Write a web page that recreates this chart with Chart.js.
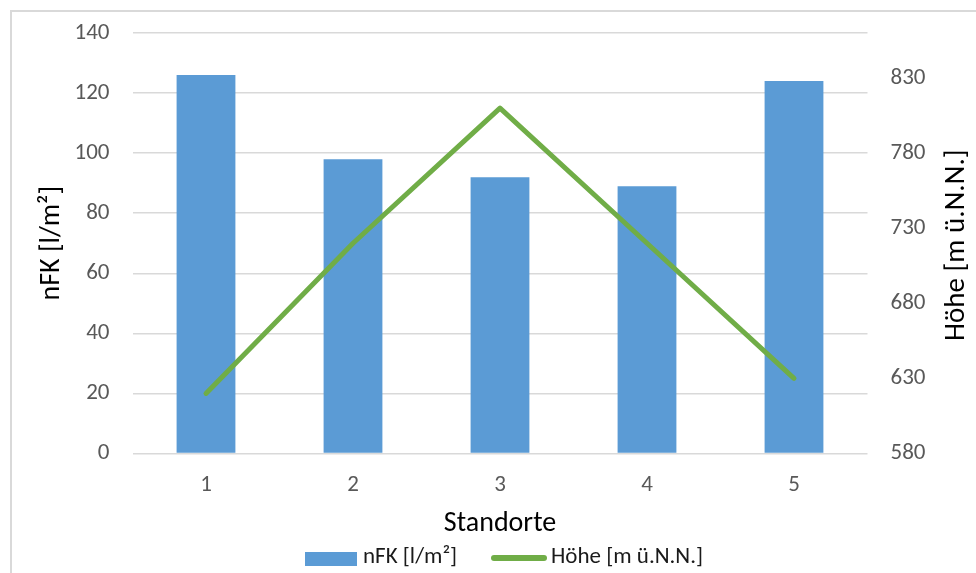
<!DOCTYPE html>
<html>
<head>
<meta charset="utf-8">
<script src="https://cdn.jsdelivr.net/npm/chart.js@4/dist/chart.umd.min.js"></script>
<style>
  html, body { margin: 0; padding: 0; background: #fff; overflow: hidden; }
  #wrap { position: relative; width: 976px; height: 573px; }
  canvas { display: block; }
</style>
</head>
<body>
<div id="wrap"><canvas id="c" width="976" height="573"></canvas></div>
<script>
const categories = ['1', '2', '3', '4', '5'];
const nfkValues = [126, 98, 92, 89, 124];
const hoeheValues = [620, 720, 810, 720, 630];
const leftTicks = [0, 20, 40, 60, 80, 100, 120, 140];
const rightTicks = [580, 630, 680, 730, 780, 830];
const nfkLabel = 'nFK [l/m²]';
const hoeheLabel = 'Höhe [m ü.N.N.]';
const xTitle = 'Standorte';

const FONT = "Carlito, Lato, 'Open Sans', sans-serif";
const BLUE = '#5B9BD5';
const GREEN = '#70AD47';
const GRID = '#D9D9D9';
const TICK = '#595959';

const extras = {
  id: 'extras',
  beforeDraw(chart) {
    const ctx = chart.ctx;
    ctx.save();
    ctx.strokeStyle = GRID;
    ctx.lineWidth = 2;
    ctx.beginPath();
    ctx.moveTo(11, 600);
    ctx.lineTo(11, 11);
    ctx.lineTo(1000, 11);
    ctx.stroke();
    ctx.restore();
  },
  afterDraw(chart) {
    const ctx = chart.ctx;
    const area = chart.chartArea;
    ctx.save();
    ctx.fillStyle = '#000';
    ctx.font = '29px ' + FONT;
    ctx.textAlign = 'center';
    ctx.textBaseline = 'middle';
    ctx.translate(957, (area.top + area.bottom) / 2 + 2);
    ctx.rotate(-Math.PI / 2);
    ctx.fillText(hoeheLabel, 0, 0);
    ctx.restore();

    ctx.save();
    ctx.font = '23px ' + FONT;
    ctx.textBaseline = 'middle';
    ctx.textAlign = 'left';
    ctx.fillStyle = BLUE;
    ctx.fillRect(305, 552, 52, 14);
    ctx.fillStyle = '#1a1a1a';
    ctx.fillText(nfkLabel, 363, 557);
    ctx.strokeStyle = GREEN;
    ctx.lineWidth = 6;
    ctx.lineCap = 'round';
    ctx.beginPath();
    ctx.moveTo(494, 558);
    ctx.lineTo(544, 558);
    ctx.stroke();
    ctx.fillText(hoeheLabel, 551, 557);
    ctx.restore();
  }
};

new Chart(document.getElementById('c'), {
  data: {
    labels: categories,
    datasets: [
      {
        type: 'line',
        label: hoeheLabel,
        data: hoeheValues,
        yAxisID: 'y1',
        borderColor: GREEN,
        backgroundColor: GREEN,
        borderWidth: 5,
        borderCapStyle: 'round',
        borderJoinStyle: 'round',
        pointRadius: 0,
        tension: 0,
        order: 0
      },
      {
        type: 'bar',
        label: nfkLabel,
        data: nfkValues,
        yAxisID: 'y',
        backgroundColor: BLUE,
        borderWidth: 0,
        categoryPercentage: 1.0,
        barPercentage: 0.4,
        order: 1
      }
    ]
  },
  options: {
    responsive: false,
    animation: false,
    devicePixelRatio: 1,
    layout: { padding: { top: 33, left: 0, right: 0, bottom: 0 } },
    plugins: {
      legend: { display: false },
      tooltip: { enabled: false }
    },
    scales: {
      x: {
        grid: { display: false },
        border: { display: false },
        ticks: { color: TICK, font: { family: FONT, size: 23 }, padding: 10 },
        title: {
          display: true, text: xTitle, color: '#000',
          font: { family: FONT, size: 28 }, padding: { top: 0, bottom: 32 }
        },
        afterFit(scale) { scale.height = 119.5; }
      },
      y: {
        position: 'left',
        min: 0, max: 140,
        afterBuildTicks(scale) { scale.ticks = leftTicks.map(v => ({ value: v })); },
        grid: { color: GRID, lineWidth: 1.5, drawTicks: true, tickLength: 23, tickColor: 'rgba(0,0,0,0)' },
        border: { display: false },
        ticks: { color: TICK, font: { family: FONT, size: 23 }, padding: 0 },
        title: {
          display: true, text: nfkLabel, color: '#000',
          font: { family: FONT, size: 28 }, padding: { top: 35, bottom: 0 }
        },
        afterFit(scale) { scale.width = 132.5; }
      },
      y1: {
        position: 'right',
        min: 580, max: 860,
        afterBuildTicks(scale) { scale.ticks = rightTicks.map(v => ({ value: v })); },
        grid: { display: false, drawTicks: true, tickLength: 23, tickColor: 'rgba(0,0,0,0)' },
        border: { display: false },
        ticks: { color: TICK, font: { family: FONT, size: 23 }, padding: 0 },
        afterFit(scale) { scale.width = 108.5; }
      }
    }
  },
  plugins: [extras]
});
</script>
</body>
</html>
